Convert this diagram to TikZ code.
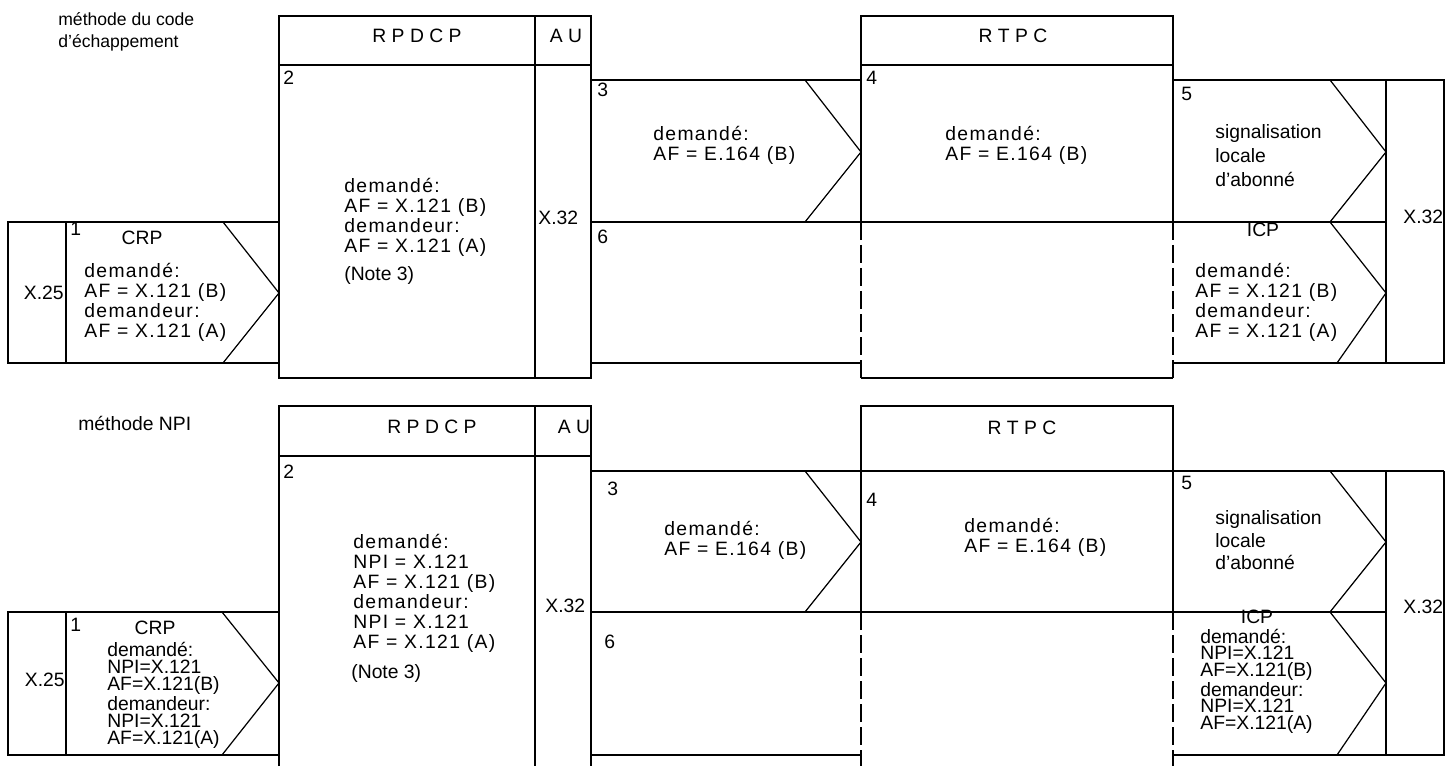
\documentclass[tikz,border=0pt]{standalone}
\usepackage{fontspec}
\setmainfont{Liberation Sans}
\newfontfamily\espacee[LetterSpace=7]{Liberation Sans}

\tikzset{
  trait/.style={line width=0.7pt},
  tiret/.style={line width=0.7pt, dash pattern=on 0.36cm off 0.1cm},
  texte/.style={inner sep=0pt, anchor=west, align=left,
    font=\fontsize{11}{11.4}\selectfont},
  appel/.style={texte, font=\espacee\fontsize{11}{11.4}\selectfont},
  serre/.style={texte, font=\fontsize{11}{9.6}\selectfont},
  titre/.style={inner sep=0pt, font=\fontsize{11}{11.4}\selectfont},
  num/.style={inner sep=0pt, anchor=west, font=\fontsize{11}{11.4}\selectfont}
}

\begin{document}
\begin{tikzpicture}
  \useasboundingbox (0,0) rectangle (28.9,15.32);

  % ---- méthode du code d'échappement ----
  \node[texte, font=\fontsize{10}{12.5}\selectfont] (titreA) at (1.16,14.68)
    {méthode du code\\d'échappement};

  % RPDCP et AU
  \draw[trait] (5.58,7.76) rectangle (11.82,15.0);
  \draw[trait] (5.58,14.02) -- (11.82,14.02);
  \draw[trait] (10.7,15.0) -- (10.7,7.76);
  \node[titre] (rpdcpA) at (8.34,14.6) {R P D C P};
  \node[titre] (auA) at (11.32,14.6) {A U};

  % X.25 et CRP
  \draw[trait] (0.16,8.06) rectangle (5.58,10.88);
  \draw[trait] (1.32,10.88) -- (1.32,8.06);
  \draw[trait] (4.46,10.88) -- (5.58,9.46) -- (4.46,8.06);

  % zones 3 et 6
  \draw[trait] (11.82,13.72) -- (17.22,13.72);
  \draw[trait] (11.82,10.88) -- (27.72,10.88);
  \draw[trait] (11.82,8.06) -- (17.22,8.06);
  \draw[trait] (16.1,13.72) -- (17.22,12.28) -- (16.1,10.88);

  % RTPC
  \draw[trait] (17.22,10.88) -- (17.22,15.0) -- (23.46,15.0) -- (23.46,10.88);
  \draw[trait] (17.22,14.02) -- (23.46,14.02);
  \draw[tiret] (17.22,10.88) -- (17.22,7.76);
  \draw[tiret] (23.46,10.88) -- (23.46,7.76);
  \draw[trait] (17.22,7.76) -- (23.46,7.76);
  \node[titre] (rtpcA) at (20.26,14.6) {R T P C};

  % zones 5 et ICP, X.32
  \draw[trait] (23.46,13.72) -- (28.88,13.72) -- (28.88,8.06) -- (23.46,8.06);
  \draw[trait] (27.72,13.72) -- (27.72,8.06);
  \draw[trait] (26.6,13.72) -- (27.72,12.28) -- (26.6,10.88) -- (27.72,9.46)
    -- (26.74,8.06);

  \foreach \n/\x/\y in {1/1.4/10.74, 2/5.66/13.76, 3/11.94/13.52,
                        4/17.32/13.76, 5/23.62/13.44, 6/11.94/10.58}
    \node[num] (numA\n) at (\x,\y) {\n};

  \node[titre, anchor=east] (x25A) at (1.28,9.46) {X.25};
  \node[titre] (crpA) at (2.84,10.56) {CRP};
  \node[appel] (appelA1) at (1.68,9.28)
    {demandé:\\AF = X.121 (B)\\demandeur:\\AF = X.121 (A)};
  \node[appel] (appelA2) at (6.88,10.98)
    {demandé:\\AF = X.121 (B)\\demandeur:\\AF = X.121 (A)};
  \node[texte] (noteA) at (6.88,9.82) {(Note 3)};
  \node[texte] (x32A) at (10.76,10.96) {X.32};
  \node[appel] (appelA3) at (13.06,12.42) {demandé:\\AF = E.164 (B)};
  \node[appel] (appelA4) at (18.9,12.42) {demandé:\\AF = E.164 (B)};
  \node[texte, font=\fontsize{11}{13.7}\selectfont] (sigA) at (24.3,12.2)
    {signalisation\\locale\\d'abonné};
  \node[titre] (icpA) at (25.26,10.72) {ICP};
  \node[appel] (appelA5) at (23.9,9.28)
    {demandé:\\AF = X.121 (B)\\demandeur:\\AF = X.121 (A)};
  \node[texte] (x32dA) at (28.06,10.98) {X.32};

  % ---- méthode NPI ----
  \node[texte] (titreB) at (1.56,6.86) {méthode NPI};

  % RPDCP et AU
  \draw[trait] (5.58,0) -- (5.58,7.2) -- (11.82,7.2) -- (11.82,0);
  \draw[trait] (5.58,6.2) -- (11.82,6.2);
  \draw[trait] (10.7,7.2) -- (10.7,0);
  \node[titre] (rpdcpB) at (8.64,6.78) {R P D C P};
  \node[titre] (auB) at (11.48,6.78) {A U};

  % X.25 et CRP
  \draw[trait] (0.16,0.22) rectangle (5.58,3.08);
  \draw[trait] (1.32,3.08) -- (1.32,0.22);
  \draw[trait] (4.44,3.08) -- (5.58,1.66) -- (4.44,0.22);

  % zones 3 et 6
  \draw[trait] (11.82,5.9) -- (28.88,5.9);
  \draw[trait] (11.82,3.08) -- (27.72,3.08);
  \draw[trait] (11.82,0.22) -- (17.22,0.22);
  \draw[trait] (16.1,5.9) -- (17.22,4.48) -- (16.1,3.08);

  % RTPC
  \draw[trait] (17.22,3.08) -- (17.22,7.2) -- (23.46,7.2) -- (23.46,3.08);
  \draw[tiret] (17.22,3.08) -- (17.22,0);
  \draw[tiret] (23.46,3.08) -- (23.46,0);
  \node[titre] (rtpcB) at (20.44,6.76) {R T P C};

  % zones 5 et ICP, X.32
  \draw[trait] (28.88,5.9) -- (28.88,0.22) -- (23.46,0.22);
  \draw[trait] (27.72,5.9) -- (27.72,0.22);
  \draw[trait] (26.6,5.9) -- (27.72,4.48) -- (26.6,3.08) -- (27.72,1.66)
    -- (26.74,0.22);

  \foreach \n/\x/\y in {1/1.4/2.82, 2/5.66/5.88, 3/12.14/5.54,
                        4/17.32/5.32, 5/23.62/5.66, 6/12.08/2.48}
    \node[num] (numB\n) at (\x,\y) {\n};

  \node[titre, anchor=east] (x25B) at (1.3,1.72) {X.25};
  \node[titre] (crpB) at (3.1,2.76) {CRP};
  \node[serre] (appelB1) at (2.14,1.41)
    {demandé:\\NPI=X.121\\AF=X.121(B)\\demandeur:\\NPI=X.121\\AF=X.121(A)};
  \node[appel] (appelB2) at (7.06,3.45)
    {demandé:\\NPI = X.121\\AF = X.121 (B)\\demandeur:\\NPI = X.121\\AF = X.121 (A)};
  \node[texte] (noteB) at (7.02,1.86) {(Note 3)};
  \node[texte] (x32B) at (10.9,3.2) {X.32};
  \node[appel] (appelB3) at (13.28,4.51) {demandé:\\AF = E.164 (B)};
  \node[appel] (appelB4) at (19.28,4.58) {demandé:\\AF = E.164 (B)};
  \node[texte, font=\fontsize{11}{12.8}\selectfont] (sigB) at (24.3,4.51)
    {signalisation\\locale\\d'abonné};
  \node[titre] (icpB) at (25.14,2.98) {ICP};
  \node[serre, font=\fontsize{11}{9.45}\selectfont] (appelB5) at (24.0,1.7)
    {demandé:\\NPI=X.121\\AF=X.121(B)\\demandeur:\\NPI=X.121\\AF=X.121(A)};
  \node[texte] (x32dB) at (28.06,3.18) {X.32};
\end{tikzpicture}
\end{document}
